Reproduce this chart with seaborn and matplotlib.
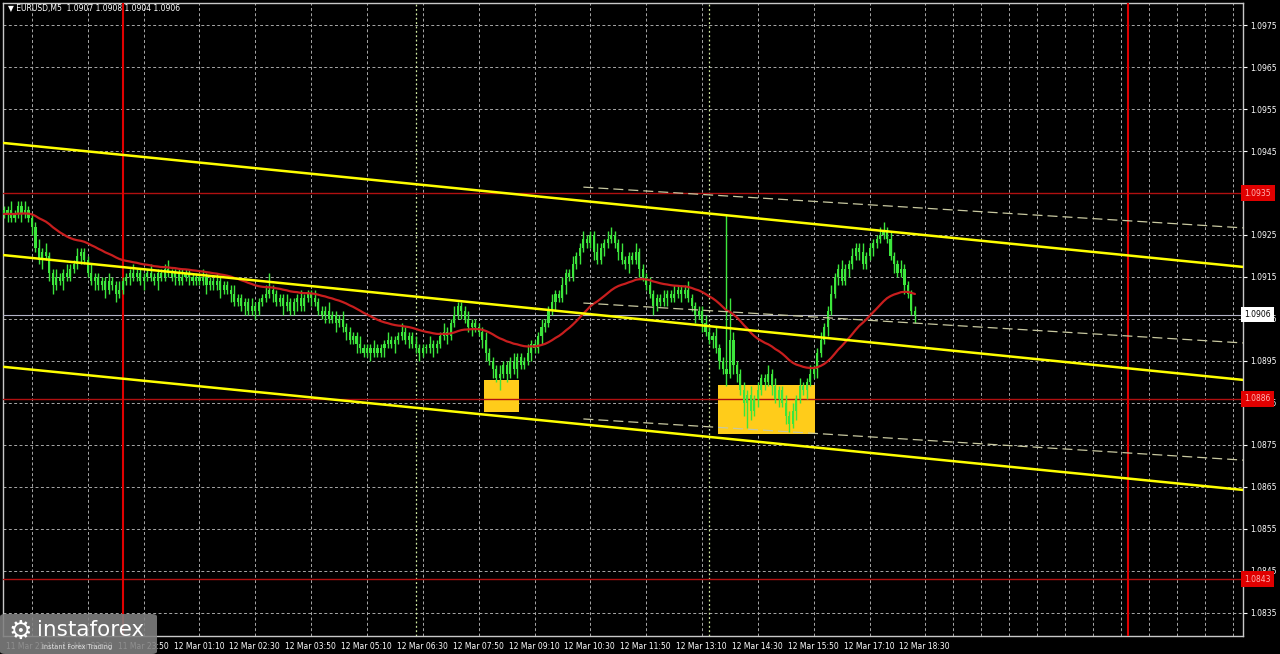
import matplotlib
matplotlib.use("Agg")
import matplotlib.pyplot as plt
import matplotlib.transforms as mtrans
from matplotlib.patches import Rectangle, FancyBboxPatch
import seaborn as sns
import numpy as np
import pandas as pd

# prices are kept in pips above 1.0800
base = 1.0800
pip = 0.0001

first_open = 131
closes = [130, 131, 129, 130, 132, 130, 131, 129, 127, 122, 119, 121, 120, 116, 113, 115, 114, 116, 115, 117,
          118, 120, 121, 119, 116, 114, 115, 113, 114, 112, 114, 113, 111, 112, 114, 115, 116, 115, 116, 114,
          115, 116, 115, 114, 116, 115, 117, 116, 115, 116, 114, 115, 116, 115, 114, 115, 114, 115, 113, 114,
          113, 114, 112, 113, 112, 111, 109, 110, 108, 109, 107, 108, 107, 109, 110, 111, 112, 111, 109, 110,
          108, 109, 107, 109, 110, 108, 110, 111, 110, 109, 107, 106, 107, 105, 106, 104, 105, 103, 102, 100,
          101, 99, 98, 97, 98, 97, 98, 97, 98, 99, 100, 99, 100, 101, 102, 100, 101, 99, 98, 97,
          98, 98, 99, 98, 99, 101, 102, 101, 104, 106, 108, 107, 105, 103, 104, 103, 102, 100, 97, 95,
          93, 91, 92, 94, 92, 95, 93, 96, 94, 95, 97, 99, 98, 101, 103, 104, 107, 109, 111, 110,
          113, 116, 115, 118, 120, 122, 124, 123, 125, 121, 119, 122, 123, 124, 125, 123, 121, 119, 118, 120,
          119, 121, 117, 115, 113, 111, 108, 110, 109, 110, 111, 110, 111, 112, 111, 112, 110, 108, 106, 107,
          104, 102, 100, 101, 98, 95, 93, 92, 100, 94, 92, 88, 85, 87, 83, 86, 88, 91, 90, 92,
          89, 86, 88, 85, 82, 80, 83, 86, 89, 88, 90, 92, 93, 97, 100, 103, 107, 111, 115, 117,
          114, 117, 118, 120, 122, 121, 118, 120, 122, 123, 124, 125, 126, 124, 120, 118, 116, 117, 113, 111,
          107, 106]
wick_hi = [1, 1, 2, 1, 1, 1, 2, 1, 1, 1, 2, 1, 2, 1, 1, 2, 1, 1, 2, 1,
           1, 2, 1, 1, 1, 2, 1, 1, 1, 1, 2, 1, 1, 2, 1, 1, 1, 2, 1, 1,
           1, 1, 2, 1, 1, 1, 1, 2, 1, 1, 1, 2, 1, 1, 1, 1, 1, 2, 1, 1,
           1, 2, 1, 1, 1, 1, 2, 1, 1, 1, 1, 2, 1, 1, 1, 2, 4, 1, 1, 1,
           1, 2, 1, 1, 1, 2, 1, 1, 1, 2, 1, 1, 1, 2, 1, 1, 1, 2, 1, 1,
           1, 1, 2, 1, 1, 1, 2, 1, 1, 1, 2, 1, 1, 1, 2, 1, 1, 1, 2, 1,
           1, 1, 2, 1, 1, 1, 2, 1, 1, 2, 1, 1, 1, 2, 1, 1, 1, 1, 2, 1,
           1, 1, 2, 1, 1, 1, 2, 1, 1, 1, 2, 1, 1, 1, 2, 1, 1, 2, 1, 1,
           2, 1, 1, 2, 1, 1, 2, 1, 1, 1, 2, 1, 1, 2, 2, 1, 1, 2, 1, 1,
           1, 2, 1, 1, 1, 2, 1, 1, 1, 2, 1, 1, 2, 1, 1, 1, 2, 1, 1, 1,
           1, 2, 1, 1, 2, 1, 1, 37, 10, 2, 1, 1, 2, 1, 2, 1, 2, 1, 1, 2,
           1, 2, 1, 1, 2, 1, 2, 1, 2, 1, 1, 2, 1, 1, 2, 1, 1, 2, 1, 1,
           2, 1, 1, 2, 1, 1, 2, 1, 1, 1, 1, 2, 2, 1, 2, 1, 1, 2, 1, 1,
           1, 1]
wick_lo = [1, 2, 1, 1, 1, 2, 1, 1, 2, 1, 1, 2, 1, 2, 2, 1, 1, 2, 1, 1,
           1, 1, 2, 1, 1, 1, 2, 1, 1, 2, 1, 1, 2, 1, 1, 1, 2, 1, 1, 1,
           2, 1, 1, 1, 2, 1, 1, 1, 1, 2, 1, 1, 1, 2, 1, 1, 1, 1, 2, 1,
           1, 1, 2, 1, 1, 2, 1, 1, 1, 2, 1, 1, 2, 1, 1, 1, 1, 2, 1, 1,
           2, 1, 1, 1, 2, 1, 1, 1, 2, 1, 1, 1, 2, 1, 1, 2, 1, 1, 2, 1,
           1, 2, 1, 1, 1, 2, 1, 1, 1, 2, 1, 1, 2, 1, 1, 1, 2, 1, 1, 2,
           1, 1, 1, 2, 1, 1, 1, 2, 1, 1, 1, 2, 1, 1, 2, 1, 1, 2, 2, 1,
           2, 1, 3, 1, 2, 1, 1, 2, 1, 1, 1, 2, 1, 1, 2, 1, 1, 1, 2, 1,
           1, 2, 1, 1, 1, 2, 1, 1, 1, 2, 1, 1, 2, 1, 1, 1, 2, 1, 1, 2,
           1, 1, 2, 1, 1, 1, 2, 1, 1, 1, 2, 1, 1, 1, 2, 1, 1, 1, 2, 1,
           2, 1, 1, 2, 1, 2, 1, 3, 1, 2, 2, 1, 3, 6, 2, 1, 2, 1, 2, 1,
           2, 1, 2, 1, 2, 2, 1, 2, 1, 1, 2, 1, 1, 2, 1, 1, 2, 1, 1, 2,
           1, 1, 2, 1, 1, 2, 1, 1, 1, 2, 1, 1, 1, 1, 1, 2, 1, 1, 2, 1,
           1, 2]

# smoothed moving average period
ma_period = 20

price_ticks = [1.0835, 1.0845, 1.0855, 1.0865, 1.0875, 1.0885, 1.0895, 1.0905,
               1.0915, 1.0925, 1.0935, 1.0945, 1.0955, 1.0965, 1.0975]
time_labels = ["11 Mar 21:10", "11 Mar 22:30", "11 Mar 23:50", "12 Mar 01:10", "12 Mar 02:30",
               "12 Mar 03:50", "12 Mar 05:10", "12 Mar 06:30", "12 Mar 07:50", "12 Mar 09:10",
               "12 Mar 10:30", "12 Mar 11:50", "12 Mar 13:10", "12 Mar 14:30", "12 Mar 15:50",
               "12 Mar 17:10", "12 Mar 18:30"]
label_every = 16
grid_every = 8
n_slots = 355

midnight_bars = [34, 322]
session_bars = [118, 202]

levels = [1.0935, 1.0886, 1.0843]
last_price = 1.0906
header = "\u25BC EURUSD,M5  1.0907 1.0908 1.0904 1.0906"

chan_x = [0, 355]
chan_upper = [1.09469, 1.09174]
chan_mid = [1.09202, 1.08905]
chan_lower = [1.08936, 1.08643]

reg_x = [166, 355]
reg_upper = [1.09364, 1.09267]
reg_mid = [1.09088, 1.08993]
reg_lower = [1.08812, 1.08714]

box_start = [138, 205]
box_end = [147, 232]
box_low = [1.08829, 1.08776]
box_high = [1.08905, 1.08893]

# build ohlc
df = pd.DataFrame({"close": closes})
df["open"] = [first_open] + closes[:-1]
df["high"] = df[["open", "close"]].max(axis=1) + wick_hi
df["low"] = df[["open", "close"]].min(axis=1) - wick_lo
for c in ["open", "high", "low", "close"]:
    df[c] = base + df[c] * pip
df["bar"] = np.arange(len(df))
df["ma"] = df["close"].ewm(alpha=1 / ma_period, adjust=False).mean()

sns.set_style("dark", {"axes.facecolor": "black", "figure.facecolor": "black"})
plt.rcParams["font.family"] = ["DejaVu Sans"]

fig = plt.figure(figsize=(12.8, 6.54), dpi=100)
ax = fig.add_axes([3 / 1280, 18 / 654, 1240 / 1280, 633 / 654])
ax.set_facecolor("black")

green = "#3CE63C"
gold = "#FFCC1A"

# boxes
for s, e, lo, hi in zip(box_start, box_end, box_low, box_high):
    ax.add_patch(Rectangle((s - 0.5, lo), e - s + 1, hi - lo, fc=gold, ec="none", zorder=2))

# horizontal levels
for lv in levels:
    ax.axhline(lv, color="#B01010", lw=1, zorder=3)
ax.axhline(last_price, color="#B4B4C8", lw=0.8, zorder=3)

# vertical markers
for b in midnight_bars:
    ax.axvline(b, color="#E00000", lw=1.5, zorder=3)
for b in session_bars:
    ax.axvline(b, color="#D2EBA0", lw=0.9, ls=(0, (1.5, 2)), zorder=1.5)

# candles
body_lo = df[["open", "close"]].min(axis=1)
body_h = (df["close"] - df["open"]).abs().clip(lower=0.000025)
ax.vlines(df["bar"], df["low"], df["high"], color=green, lw=1, zorder=4)
ax.bar(df["bar"], body_h, bottom=body_lo, width=0.6, color=green, lw=0, zorder=4)

# moving average
sns.lineplot(x=df["bar"], y=df["ma"], ax=ax, color="#C81E1E", lw=1.6, zorder=5)

# regression channel (dashed)
for ys in [reg_upper, reg_mid, reg_lower]:
    ax.plot(reg_x, ys, color="#C8C8A0", lw=0.9, ls=(0, (8, 4)), zorder=5)

# trend channel
for ys in [chan_upper, chan_mid, chan_lower]:
    sns.lineplot(x=chan_x, y=ys, ax=ax, color="#FFFF00", lw=1.8, zorder=6)

ax.set_xlim(-0.3, n_slots)
ax.set_ylim(1.082952, 1.098024)

# axes, ticks, grid (the 1.0935 tick text sits under its level label)
ax.set_yticks(price_ticks)
ax.set_yticklabels(["" if abs(p - levels[0]) < 1e-6 else f"{p:.4f}" for p in price_ticks])
ax.yaxis.tick_right()
label_pos = [i * label_every for i in range(len(time_labels))]
ax.set_xticks(label_pos)
ax.set_xticklabels(time_labels)
ax.set_xticks(np.arange(0, n_slots, grid_every), minor=True)
ax.tick_params(axis="both", which="major", colors="white", labelsize=5.5, length=3, width=0.8)
ax.tick_params(axis="x", which="major", pad=1.5)
ax.tick_params(axis="y", which="major", pad=2)
ax.tick_params(which="minor", length=0)
offset = mtrans.ScaledTranslation(2 / 100, 0, fig.dpi_scale_trans)
for lbl in ax.get_xticklabels():
    lbl.set_ha("left")
    lbl.set_transform(lbl.get_transform() + offset)
ax.grid(False)
ax.grid(which="minor", axis="x", color="#A8A8A8", lw=0.7, ls=(0, (3, 2.5)))
ax.grid(which="major", axis="y", color="#A8A8A8", lw=0.7, ls=(0, (3, 2.5)))
ax.set_axisbelow(True)
for sp in ax.spines.values():
    sp.set_color("#C8C8C8")
    sp.set_linewidth(1)
ax.set_xlabel("")
ax.set_ylabel("")

# price labels on the right
blend = mtrans.blended_transform_factory(ax.transAxes, ax.transData)
for lv in levels:
    ax.text(1.0012, lv, f"{lv:.4f}", transform=blend, ha="left", va="center", fontsize=5.5,
            color="#FFB4B4", clip_on=False, zorder=10,
            bbox=dict(boxstyle="square,pad=0.45", fc="#E00000", ec="none"))
ax.text(1.0012, last_price, f"{last_price:.4f}", transform=blend, ha="left", va="center",
        fontsize=5.5, color="black", clip_on=False, zorder=10,
        bbox=dict(boxstyle="square,pad=0.4", fc="white", ec="none"))

# header
fig.text(8 / 1280, 1 - 9 / 654, header, color="white", fontsize=5.5, va="center", ha="left")

# logo
fig.add_artist(FancyBboxPatch((0, 0), 157 / 1280, 40 / 654, boxstyle="round,pad=0,rounding_size=0.004",
                              transform=fig.transFigure, fc="#808080", ec="none", alpha=0.88, zorder=20))
fig.text(20 / 1280, 22 / 654, "\u2699", color="white", fontsize=19, ha="center", va="center", zorder=21)
fig.text(37 / 1280, 24 / 654, "instaforex", color="white", fontsize=15.5, ha="left", va="center", zorder=21)
fig.text(42 / 1280, 7 / 654, "Instant Forex Trading", color="#E0E0E0", fontsize=4.8, ha="left",
         va="center", zorder=21)

fig.savefig("out.png", dpi=100, facecolor="black")
